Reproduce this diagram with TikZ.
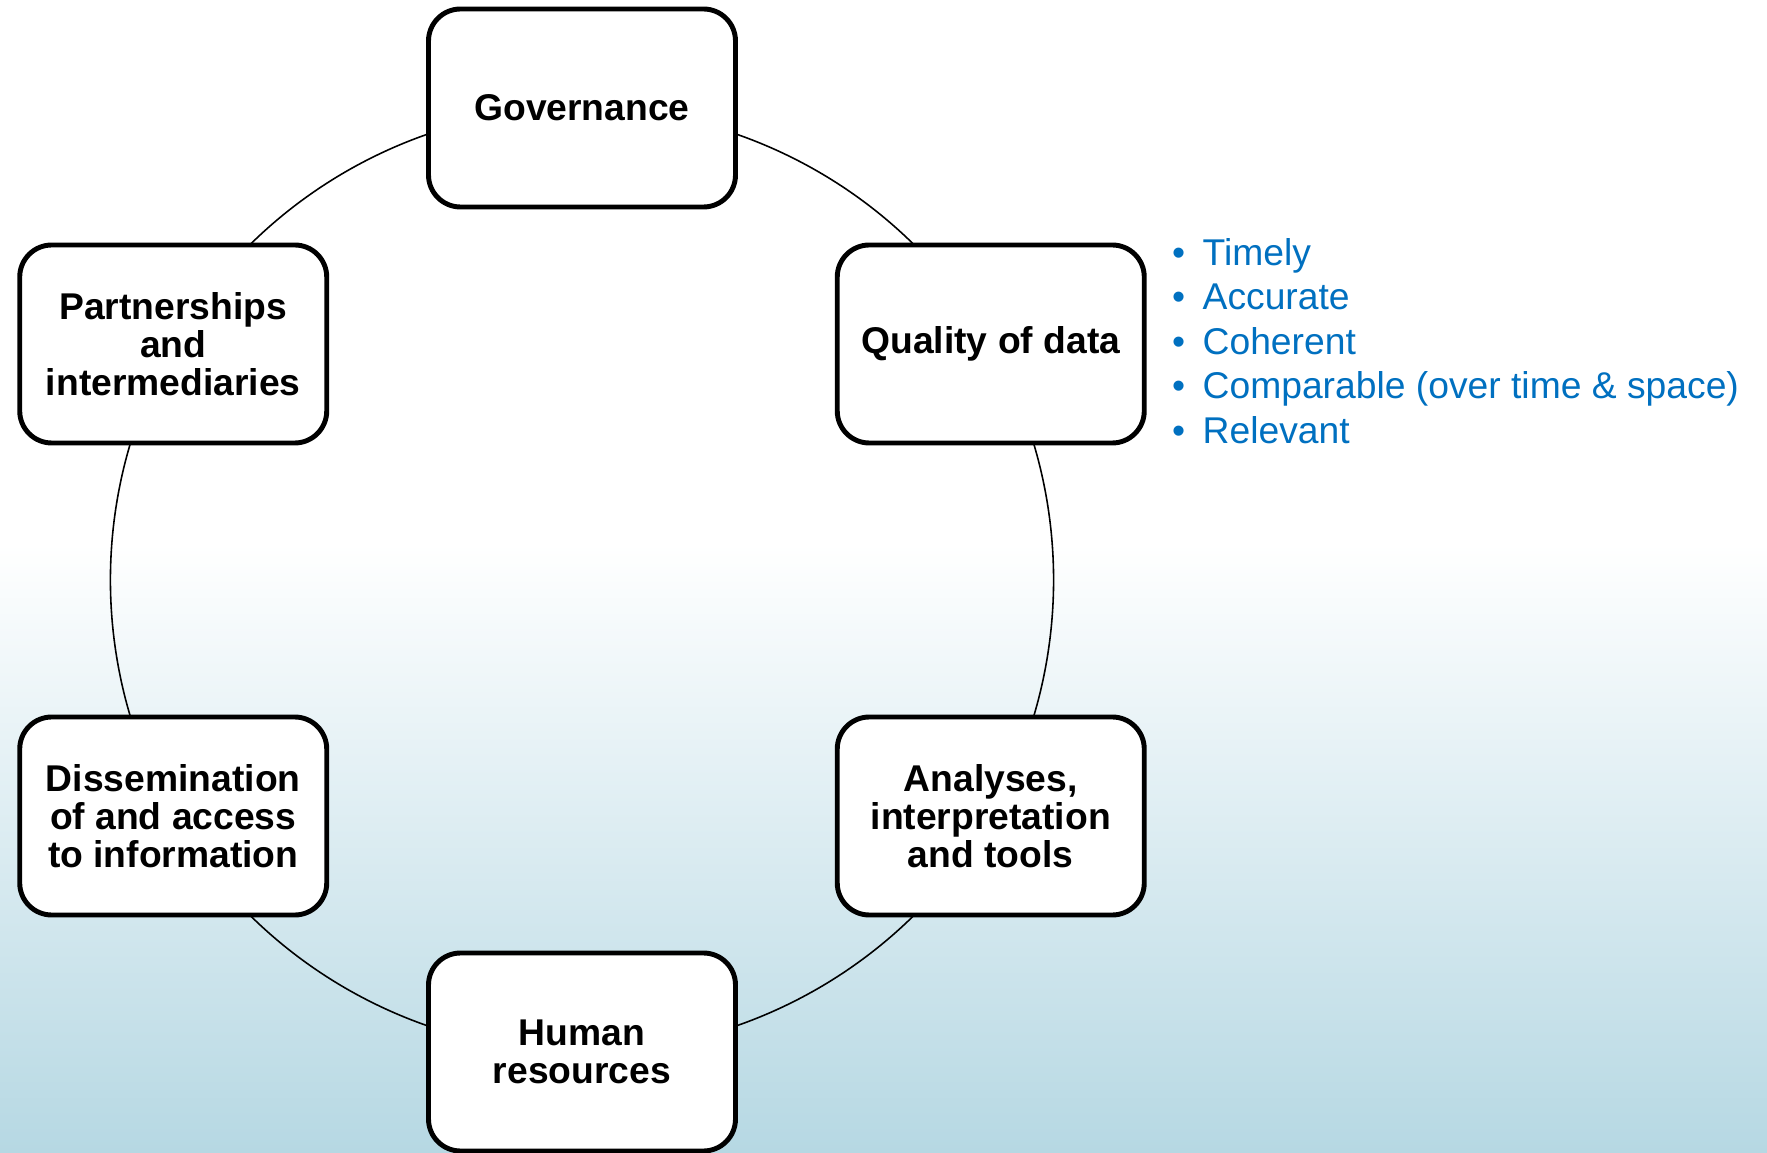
\documentclass[tikz,border=0pt]{standalone}
\usepackage{fontspec}
\setmainfont{Liberation Sans}
\usepackage{xcolor}
\usepackage{tikz}

\definecolor{bulletblue}{RGB}{0,112,192}
\definecolor{bgblue}{RGB}{182,216,227}

\pgfdeclarelayer{back}
\pgfdeclarelayer{ringlayer}
\pgfsetlayers{back,ringlayer,main}

\begin{document}
\begin{tikzpicture}[
    box/.style={draw, line width=1.4pt, rounded corners=0.32cm, fill=white,
        minimum width=3.07cm, minimum height=1.98cm, inner sep=0pt, align=center,
        font=\fontsize{10.6}{10.9}\selectfont\bfseries},
    ring/.style={line width=0.45pt, bend left=30, looseness=0.91}]
    % Background: white at the top, fading to light blue
    \begin{pgfonlayer}{back}
        \fill[white] (-5.82,0.37) rectangle (11.85,5.80);
        \shade[top color=white, bottom color=bgblue] (-5.82,-5.72) rectangle (11.85,0.37);
    \end{pgfonlayer}
    \useasboundingbox (-5.82,-5.72) rectangle (11.85,5.80);

    % Six boxes round the cycle
    \node[box] (gov) at (90:4.72) {Governance};
    \node[box] (qual) at (30:4.72) {Quality of data};
    \node[box] (anal) at (-30:4.72) {Analyses,\\interpretation\\and tools};
    \node[box] (hum) at (-90:4.72) {Human\\resources};
    \node[box] (diss) at (-150:4.72) {Dissemination\\of and access\\to information};
    \node[box] (part) at (150:4.72) {Partnerships\\and\\intermediaries};

    % Ring joining the boxes
    \begin{pgfonlayer}{ringlayer}
        \foreach \a/\b in {gov/qual, qual/anal, anal/hum, hum/diss, diss/part, part/gov}
            \draw[ring] (\a.center) to (\b.center);
    \end{pgfonlayer}

    % Criteria next to the data box
    \node[anchor=west, inner sep=0pt, align=left, text=bulletblue,
        font=\fontsize{10.6}{12.66}\selectfont] (crit) at (5.894,2.39)
        {\makebox[8.7pt][l]{\textbullet}Timely\\
         \makebox[8.7pt][l]{\textbullet}Accurate\\
         \makebox[8.7pt][l]{\textbullet}Coherent\\
         \makebox[8.7pt][l]{\textbullet}Comparable (over time \& space)\\
         \makebox[8.7pt][l]{\textbullet}Relevant};
\end{tikzpicture}
\end{document}
